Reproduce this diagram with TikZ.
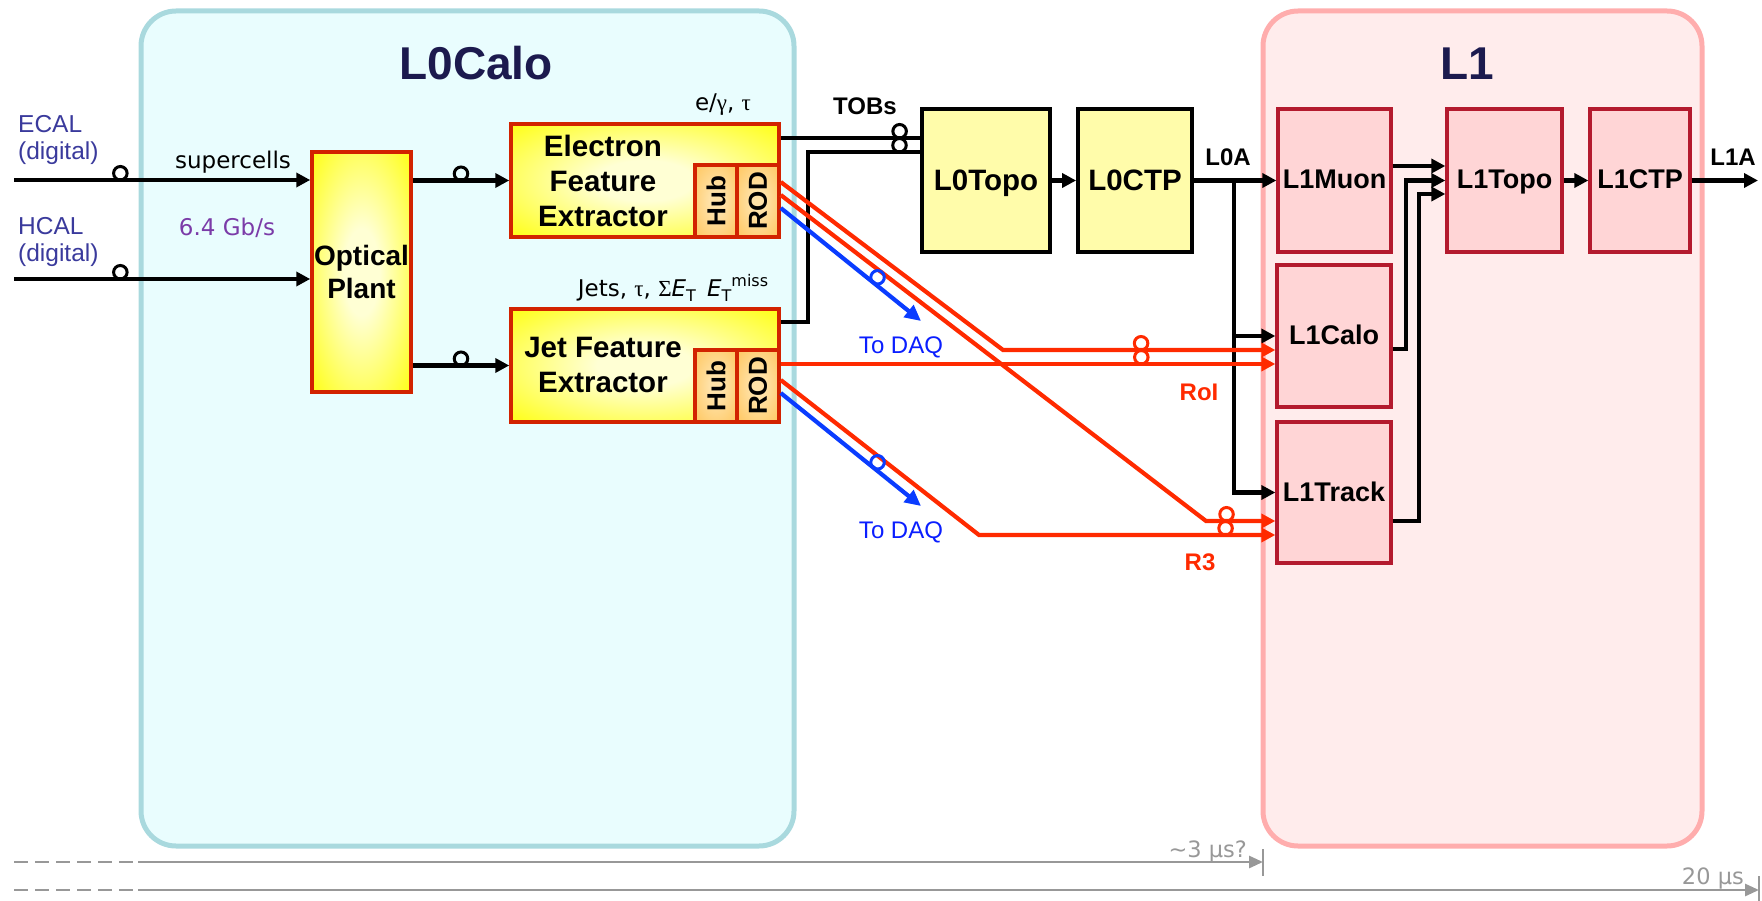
\documentclass[tikz,border=0pt]{standalone}
\usepackage{graphicx}
\usepackage{fontspec}
\setmainfont{Liberation Sans}
\newfontfamily\humfont{DejaVu Sans}
\newfontfamily\grkfont{Liberation Serif}
\usetikzlibrary{arrows.meta,calc}

\definecolor{panelAfill}{HTML}{E9FDFE}
\definecolor{panelAedge}{HTML}{A9D9DE}
\definecolor{panelBfill}{HTML}{FFECEC}
\definecolor{panelBedge}{HTML}{FFADAD}
\definecolor{titleInk}{HTML}{1C1A4E}
\definecolor{boxRed}{HTML}{D22300}
\definecolor{glowIn}{HTML}{FFFFD4}
\definecolor{glowOut}{HTML}{FFFF10}
\definecolor{hubIn}{HTML}{FFE2A8}
\definecolor{hubOut}{HTML}{FFC65E}
\definecolor{topoFill}{HTML}{FFFCAA}
\definecolor{lOneFill}{HTML}{FFD5D6}
\definecolor{lOneEdge}{HTML}{B41A2E}
\definecolor{linkRed}{HTML}{FF2A00}
\definecolor{linkBlue}{HTML}{0A3CFF}
\definecolor{daqBlue}{HTML}{0A1EFF}
\definecolor{srcInk}{HTML}{3A3A9C}
\definecolor{rateInk}{HTML}{7B3BA8}
\definecolor{timeGray}{HTML}{989898}

\pgfdeclareradialshading{glowshade}{\pgfpoint{0bp}{0bp}}{color(0bp)=(glowIn); color(9bp)=(glowIn); color(36bp)=(glowOut); color(50bp)=(glowOut)}
\pgfdeclareradialshading{hubshade}{\pgfpoint{0bp}{0bp}}{color(0bp)=(hubIn); color(8bp)=(hubIn); color(36bp)=(hubOut); color(50bp)=(hubOut)}

\tikzset{
  panelA/.style={draw=panelAedge, fill=panelAfill, line width=5pt, rounded corners=35pt},
  panelB/.style={draw=panelBedge, fill=panelBfill, line width=5pt, rounded corners=35pt},
  titletext/.style={font=\fontsize{46}{50}\selectfont\bfseries, text=titleInk, anchor=base, inner sep=0pt},
  glowbox/.style={draw=boxRed, line width=3.5pt, shade, shading=glowshade, inner sep=0pt},
  hubbox/.style={draw=boxRed, line width=3.5pt, shade, shading=hubshade, inner sep=0pt,
    minimum width=42pt, minimum height=72pt, font=\fontsize{26}{30}\selectfont\bfseries},
  topobox/.style={draw=black, line width=3.8pt, fill=topoFill, inner sep=0pt,
    minimum height=143pt, text height=21pt, text depth=0pt, font=\fontsize{29.5}{34}\selectfont\bfseries},
  lonebox/.style={draw=lOneEdge, line width=3.3pt, fill=lOneFill, inner sep=0pt,
    text height=17pt, text depth=0pt, font=\fontsize{27}{31}\selectfont\bfseries},
  conn/.style={line width=4.5pt, draw=black},
  arr/.style={-{Triangle[length=14pt,width=14pt]}},
  redlink/.style={line width=4.2pt, draw=linkRed, -{Triangle[length=14pt,width=14pt]}},
  bluelink/.style={line width=4.2pt, draw=linkBlue, -{Triangle[length=16pt,width=15pt]}},
  ring/.style={circle, draw=#1, line width=3pt, minimum size=13.5pt, inner sep=0pt, outer sep=0pt, anchor=south},
  ring/.default=black,
  humlbl/.style={font=\fontsize{23}{27}\selectfont\humfont, inner sep=0pt, anchor=base},
  boldlbl/.style={font=\fontsize{24}{28}\selectfont\bfseries, inner sep=0pt, anchor=base},
  srclbl/.style={font=\fontsize{24.5}{27}\selectfont, text=srcInk, inner sep=0pt, anchor=north west, align=left},
  daqlbl/.style={font=\fontsize{24}{28}\selectfont, text=daqBlue, inner sep=0pt},
  timeline/.style={line width=2.8pt, draw=timeGray},
  timedash/.style={timeline, dash pattern=on 13.5pt off 7.5pt},
  timearr/.style={timeline, -{Triangle[length=14pt,width=12pt]}},
  timelbl/.style={font=\fontsize{22.5}{26}\selectfont\humfont, text=timeGray, inner sep=0pt, anchor=base east},
}

\begin{document}
\begin{tikzpicture}[x=1pt, y=-1pt, line join=miter]
\useasboundingbox (0,0) rectangle (1762,901);

% stage panels
\draw[panelA] (141,11) rectangle (794,846);
\draw[panelB] (1263,11) rectangle (1702,846);
\node[titletext] (titleLzero) at (476,80) {L0Calo};
\node[titletext] (titleLone) at (1467,80) {L1};

% L0Calo blocks
\node[glowbox, minimum width=99pt, minimum height=240pt, align=center,
      font=\fontsize{28}{33}\selectfont\bfseries] (optical) at (361.5,272) {Optical\\Plant};
\node[glowbox, minimum width=268pt, minimum height=113pt] (efe) at (645,180.5) {};
\node[align=center, inner sep=0pt, font=\fontsize{29.5}{35}\selectfont\bfseries] (efeText) at (603,181) {Electron\\Feature\\Extractor};
\node[hubbox] (efeHub) at (716,201) {\rotatebox{90}{Hub}};
\node[hubbox] (efeRod) at (758,201) {\rotatebox{90}{ROD}};
\node[glowbox, minimum width=268pt, minimum height=113pt] (jfe) at (645,365.5) {};
\node[align=center, inner sep=0pt, font=\fontsize{29.5}{35}\selectfont\bfseries] (jfeText) at (603,365) {Jet Feature\\Extractor};
\node[hubbox] (jfeHub) at (716,386) {\rotatebox{90}{Hub}};
\node[hubbox] (jfeRod) at (758,386) {\rotatebox{90}{ROD}};

% L0 topological and central trigger
\node[topobox, minimum width=128pt] (lzeroTopo) at (986,180.5) {L0Topo};
\node[topobox, minimum width=114pt] (lzeroCTP) at (1135,180.5) {L0CTP};

% L1 blocks
\node[lonebox, minimum width=113pt, minimum height=143pt] (loneMuon) at (1334.5,180.5) {L1Muon};
\node[lonebox, minimum width=115pt, minimum height=143pt] (loneTopo) at (1504.5,180.5) {L1Topo};
\node[lonebox, minimum width=100pt, minimum height=143pt] (loneCTP) at (1640,180.5) {L1CTP};
\node[lonebox, minimum width=114pt, minimum height=142pt] (loneCalo) at (1334,336) {L1Calo};
\node[lonebox, minimum width=114pt, minimum height=141pt] (loneTrack) at (1334,492.5) {L1Track};

% detector inputs
\node[srclbl] (lblEcal) at (18,115) {ECAL\\(digital)};
\node[srclbl] (lblHcal) at (18,217) {HCAL\\(digital)};
\coordinate (ecalSrc) at (14,180);
\coordinate (hcalSrc) at (14,279);
\draw[conn, arr] (ecalSrc) -- node[ring, pos=0.359] {} (ecalSrc -| optical.west);
\draw[conn, arr] (hcalSrc) -- node[ring, pos=0.359] {} (hcalSrc -| optical.west);
\node[humlbl] (lblSuper) at (233,169) {supercells};
\node[humlbl, text=rateInk] (lblRate) at (227,236) {6.4 Gb/s};

% optical plant to feature extractors
\draw[conn, arr] (optical.east |- efe.west) -- node[ring, pos=0.5] {} (efe.west);
\draw[conn, arr] (optical.east |- jfe.west) -- node[ring, pos=0.5] {} (jfe.west);
\node[humlbl] (lblEgamma) at (723,111) {e/{\grkfont γ}, {\grkfont τ}};
\node[humlbl] (lblJets) at (673,297) {Jets, {\grkfont τ}, {\grkfont Σ}\textit{E}\raisebox{-0.35ex}{\fontsize{16}{16}\selectfont T}\, \textit{E}\raisebox{-0.35ex}{\fontsize{16}{16}\selectfont T}\raisebox{0.8ex}{\fontsize{16}{16}\selectfont miss}};

% trigger objects to L0Topo
\node[boldlbl] (lblTobs) at (865,115) {TOBs};
\draw[conn] ($(efe.east)+(0,-42.5)$) coordinate (tobE) -- node[ring, pos=0.853] {} (tobE -| lzeroTopo.west);
\coordinate (tobBend) at (808,152);
\draw[conn] ($(jfe.east)+(0,-43.5)$) -| (tobBend) -- node[ring, pos=0.816] {} (tobBend -| lzeroTopo.west);
\draw[conn, arr] (lzeroTopo) -- (lzeroCTP);

% L0 accept fan-out
\draw[conn, arr] (lzeroCTP) -- (loneMuon);
\node[boldlbl] (lblLzeroA) at (1228,166) {L0A};
\coordinate (lzeroBranch) at (1234,180.5);
\draw[conn, arr] (lzeroBranch) |- (loneTrack.west);
\draw[conn, arr] (lzeroBranch |- loneCalo.west) -- (loneCalo.west);

% L1 internals
\draw[conn, arr] ($(loneMuon.east)+(0,-14.5)$) -- ($(loneTopo.west)+(0,-14.5)$);
\coordinate (caloRise) at (1406,180.5);
\draw[conn, arr] ($(loneCalo.east)+(0,13)$) -| (caloRise) -- (loneTopo.west);
\coordinate (trackRise) at (1419,194);
\draw[conn, arr] ($(loneTrack.east)+(0,28.5)$) -| (trackRise) -- (trackRise -| loneTopo.west);
\draw[conn, arr] (loneTopo) -- (loneCTP);
\coordinate (loneOut) at (1758,180.5);
\draw[conn, arr] (loneCTP) -- (loneOut);
\node[boldlbl] (lblLoneA) at (1733,166) {L1A};

% readout links: RoI and R3 to L1
\coordinate (bendA) at (1003,350);
\draw[redlink] ($(efeRod.east)+(0,-19)$) -- (bendA) -- node[ring=linkRed, pos=0.507] {} (bendA -| loneCalo.west);
\coordinate (bendB) at (1206,521);
\draw[redlink] ($(efeRod.east)+(0,-6)$) -- (bendB) -- node[ring=linkRed, pos=0.296] {} (bendB -| loneTrack.west);
\draw[redlink] ($(jfeRod.east)+(0,-22)$) coordinate (jfeRoi) -- node[ring=linkRed, pos=0.729] {} (jfeRoi -| loneCalo.west);
\coordinate (bendD) at (979,535);
\draw[redlink] ($(jfeRod.east)+(0,-6)$) -- (bendD) -- node[ring=linkRed, pos=0.832] {} (bendD -| loneTrack.west);
\node[boldlbl, text=linkRed] (lblRoi) at (1199,400) {RoI};
\node[boldlbl, text=linkRed] (lblRthree) at (1200,570) {R3};

% DAQ readout
\coordinate (daqE) at (921,321);
\coordinate (daqJ) at (921,506);
\draw[bluelink] ($(efeRod.east)+(0,7)$) -- node[ring=linkBlue, pos=0.66, sloped] {} (daqE);
\draw[bluelink] ($(jfeRod.east)+(0,7)$) -- node[ring=linkBlue, pos=0.66, sloped] {} (daqJ);
\node[daqlbl] (lblDaqE) at (901,347) {To DAQ};
\node[daqlbl] (lblDaqJ) at (901,532) {To DAQ};

% latency scale
\coordinate (tAzero) at (14,862);
\coordinate (tAone) at (138,862);
\coordinate (tAend) at (1263,862);
\draw[timedash] (tAzero) -- (133,862);
\draw[timearr] (tAone) -- (tAend);
\draw[timeline] ($(tAend)+(0,-13)$) -- ($(tAend)+(0,14)$);
\node[timelbl] (lblTA) at (1247,857) {\textasciitilde3 μs?};
\coordinate (tBzero) at (14,890);
\coordinate (tBone) at (138,890);
\coordinate (tBend) at (1759,890);
\draw[timedash] (tBzero) -- (133,890);
\draw[timearr] (tBone) -- (tBend);
\draw[timeline] ($(tBend)+(0,-14)$) -- ($(tBend)+(0,11)$);
\node[timelbl] (lblTB) at (1744,884) {20 μs};
\end{tikzpicture}
\end{document}
